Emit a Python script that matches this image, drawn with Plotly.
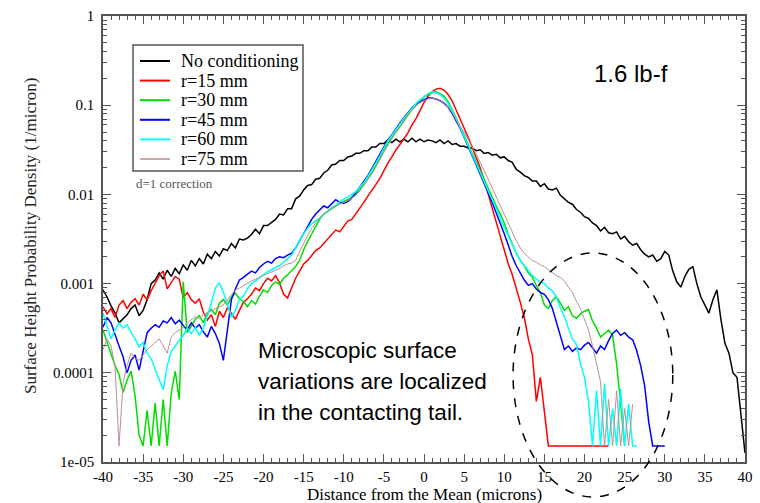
import plotly.graph_objects as go

# Bin centres of the height histogram (microns from the mean), 0.5 micron bins
distance = [i * 0.5 for i in range(-80, 81)]

# log10 of the surface-height probability density (1/micron), one value per bin.
# -4.82 is the single-count floor; None marks empty bins that are not drawn.
log_no_cond = [
    -3.07, -3.15, -3.25, -3.33, -3.44, -3.40, -3.35, -3.28, -3.24, -3.36,
    -3.30, -3.18, -3.00, -2.96, -2.88, -2.95, -2.85, -2.92, -2.83, -2.89,
    -2.79, -2.85, -2.74, -2.80, -2.72, -2.78, -2.67, -2.72, -2.64, -2.69,
    -2.61, -2.63, -2.55, -2.60, -2.50, -2.51, -2.49, -2.45, -2.39, -2.44,
    -2.35, -2.35, -2.32, -2.28, -2.22, -2.23, -2.16, -2.16, -2.05, -2.02,
    -1.95, -1.90, -1.89, -1.83, -1.82, -1.76, -1.73, -1.67, -1.66, -1.62,
    -1.62, -1.58, -1.57, -1.54, -1.54, -1.51, -1.51, -1.47, -1.47, -1.43,
    -1.43, -1.39, -1.42, -1.38, -1.41, -1.38, -1.41, -1.37, -1.41, -1.38,
    -1.41, -1.39, -1.40, -1.42, -1.39, -1.43, -1.40, -1.44, -1.43, -1.46,
    -1.46, -1.48, -1.48, -1.51, -1.50, -1.54, -1.53, -1.56, -1.55, -1.59,
    -1.58, -1.62, -1.64, -1.72, -1.75, -1.79, -1.81, -1.85, -1.85, -1.91,
    -1.88, -1.94, -1.95, -1.93, -2.01, -2.05, -2.09, -2.11, -2.17, -2.20,
    -2.25, -2.27, -2.32, -2.35, -2.41, -2.37, -2.43, -2.44, -2.42, -2.50,
    -2.47, -2.53, -2.57, -2.55, -2.62, -2.67, -2.70, -2.68, -2.75, -2.72,
    -2.64, -2.68, -2.86, -2.98, -3.04, -2.92, -2.84, -2.81, -3.00, -3.15,
    -3.25, -3.33, -3.18, -3.07, -3.40, -3.67, -3.78, -4.00, -4.05, -4.50,
    -4.90,
]

log_r15 = [
    -3.26, -3.34, -3.28, -3.38, -3.24, -3.19, -3.28, -3.21, -3.17, -3.24,
    -3.12, -3.18, -3.08, -3.00, -2.91, -2.86, -3.06, -2.99, -2.92, -2.95,
    -3.16, -3.10, -3.18, -3.22, -3.17, -3.32, -3.41, -3.35, -3.48, -3.31,
    -3.38, -3.27, -3.34, -3.40, -3.30, -3.21, -3.17, -3.12, -3.05, -3.08,
    -3.00, -2.94, -2.97, -2.91, -2.99, -3.12, -3.16, -3.05, -2.94, -2.86,
    -2.78, -2.74, -2.69, -2.63, -2.60, -2.55, -2.50, -2.44, -2.40, -2.42,
    -2.36, -2.30, -2.28, -2.22, -2.16, -2.09, -2.02, -1.96, -1.89, -1.82,
    -1.73, -1.65, -1.58, -1.50, -1.44, -1.38, -1.31, -1.22, -1.15, -1.06,
    -0.97, -0.90, -0.85, -0.82, -0.81, -0.83, -0.88, -0.95, -1.05, -1.14,
    -1.25, -1.36, -1.47, -1.58, -1.70, -1.84, -2.00, -2.16, -2.32, -2.48,
    -2.64, -2.78, -2.90, -3.05, -3.21, -3.38, -3.62, -3.80, -4.32, -4.05,
    -4.46, -4.82, -4.82, -4.82, -4.82, -4.82, -4.82, -4.82, -4.82, -4.82,
    -4.82, -4.82, -4.82, -4.82, -4.82, -4.82, -4.82, None, None, None,
    None, None, None, None, None, None, None, None, None, None,
    None, None, None, None, None, None, None, None, None, None,
    None, None, None, None, None, None, None, None, None, None,
    None,
]

log_r30 = [
    -3.52, -3.66, -3.78, -3.92, -4.02, -4.22, -4.08, -3.98, -4.26, -4.70,
    -4.82, -4.42, -4.82, -4.34, -4.82, -4.30, -4.82, -4.23, -3.98, -4.30,
    -2.98, -3.55, -3.48, -3.40, -3.36, -3.44, -3.33, -3.29, -3.35, -3.22,
    -3.18, -3.24, -3.15, -3.11, -3.17, -3.20, -3.26, -3.19, -3.23, -3.14,
    -3.07, -3.10, -3.02, -2.98, -3.01, -2.94, -2.90, -2.86, -2.81, -2.74,
    -2.62, -2.53, -2.44, -2.36, -2.28, -2.22, -2.19, -2.16, -2.13, -2.10,
    -2.08, -2.06, -2.03, -2.00, -1.95, -1.89, -1.83, -1.76, -1.68, -1.60,
    -1.50, -1.43, -1.36, -1.30, -1.24, -1.17, -1.11, -1.05, -1.00, -0.95,
    -0.91, -0.88, -0.86, -0.85, -0.87, -0.90, -0.96, -1.05, -1.14, -1.24,
    -1.34, -1.44, -1.54, -1.64, -1.74, -1.84, -1.94, -2.04, -2.13, -2.22,
    -2.32, -2.45, -2.56, -2.66, -2.74, -2.80, -2.88, -2.93, -3.02, -3.10,
    -3.24, -3.28, -3.19, -3.15, -3.22, -3.30, -3.26, -3.36, -3.39, -3.34,
    -3.31, -3.29, -3.42, -3.50, -3.60, -3.56, -3.52, -3.58, -3.90, -4.34,
    -4.82, None, None, None, None, None, None, None, None, None,
    None, None, None, None, None, None, None, None, None, None,
    None, None, None, None, None, None, None, None, None, None,
    None,
]

log_r45 = [
    -3.49, -3.38, -3.44, -3.58, -3.70, -3.82, -4.00, -3.86, -3.80, -3.97,
    -3.74, -3.55, -3.50, -3.46, -3.49, -3.42, -3.44, -3.38, -3.45, -3.41,
    -3.47, -3.52, -3.44, -3.50, -3.46, -3.54, -3.60, -3.48, -3.56, -3.67,
    -3.86, -3.50, -3.18, -3.06, -2.96, -2.93, -2.90, -2.86, -2.88, -2.82,
    -2.78, -2.75, -2.77, -2.72, -2.70, -2.71, -2.68, -2.66, -2.60, -2.52,
    -2.45, -2.36, -2.28, -2.22, -2.17, -2.13, -2.15, -2.10, -2.06, -2.09,
    -2.10, -2.08, -2.04, -1.98, -1.92, -1.86, -1.79, -1.71, -1.63, -1.55,
    -1.46, -1.39, -1.33, -1.26, -1.20, -1.14, -1.08, -1.03, -0.99, -0.96,
    -0.94, -0.92, -0.92, -0.93, -0.95, -0.98, -1.02, -1.09, -1.17, -1.26,
    -1.36, -1.46, -1.56, -1.66, -1.76, -1.87, -1.98, -2.09, -2.20, -2.31,
    -2.44, -2.57, -2.70, -2.80, -2.88, -2.96, -3.02, -3.00, -3.06, -3.10,
    -3.12, -3.18, -3.28, -3.44, -3.58, -3.74, -3.70, -3.76, -3.72, -3.74,
    -3.69, -3.66, -3.72, -3.78, -3.70, -3.74, -3.64, -3.56, -3.52, -3.58,
    -3.55, -3.60, -3.63, -3.75, -3.92, -4.15, -4.55, -4.82, -4.82, -4.82,
    -4.82, None, None, None, None, None, None, None, None, None,
    None, None, None, None, None, None, None, None, None, None,
    None,
]

log_r60 = [
    -3.33, -3.48, -3.62, -3.52, -3.44, -3.50, -3.46, -3.55, -3.62, -3.71,
    -3.66, -3.78, -3.84, -3.96, -4.08, -4.19, -3.92, -3.76, -3.70, -3.64,
    -3.58, -3.50, -3.56, -3.49, -3.58, -3.50, -3.36, -3.22, -3.05, -2.99,
    -3.10, -3.22, -3.38, -3.30, -3.18, -3.14, -3.06, -3.00, -2.97, -2.93,
    -2.90, -2.87, -2.84, -2.82, -2.80, -2.76, -2.72, -2.68, -2.60, -2.52,
    -2.44, -2.38, -2.33, -2.30, -2.27, -2.22, -2.18, -2.15, -2.12, -2.08,
    -2.05, -2.03, -2.00, -1.97, -1.92, -1.87, -1.80, -1.73, -1.65, -1.57,
    -1.48, -1.40, -1.34, -1.27, -1.21, -1.15, -1.09, -1.03, -0.98, -0.94,
    -0.90, -0.87, -0.85, -0.86, -0.88, -0.92, -0.98, -1.06, -1.15, -1.25,
    -1.35, -1.45, -1.55, -1.65, -1.75, -1.85, -1.96, -2.06, -2.16, -2.27,
    -2.37, -2.48, -2.58, -2.66, -2.74, -2.80, -2.86, -2.91, -2.95, -2.98,
    -3.00, -3.05, -3.08, -3.15, -3.28, -3.37, -3.50, -3.62, -3.68, -3.90,
    -4.05, -4.32, -4.82, -4.20, -4.82, -4.12, -4.82, -4.40, -4.82, -4.18,
    -4.82, -4.35, -4.82, -4.82, None, None, None, None, None, None,
    None, None, None, None, None, None, None, None, None, None,
    None, None, None, None, None, None, None, None, None, None,
    None,
]

log_r75 = [
    -3.74, -3.62, -3.70, -3.93, -4.82, -4.11, -3.92, -3.78, -3.84, -3.86,
    -3.80, -3.74, -3.70, -3.66, -3.62, -3.70, -3.78, -3.60, -3.55, -3.52,
    -3.49, -3.44, -3.40, -3.37, -3.39, -3.35, -3.33, -3.30, -3.28, -3.26,
    -3.24, -3.18, -3.12, -3.07, -3.05, -3.02, -2.99, -2.97, -2.95, -2.93,
    -2.91, -2.89, -2.87, -2.85, -2.83, -2.80, -2.78, -2.77, -2.74, -2.64,
    -2.54, -2.46, -2.38, -2.32, -2.26, -2.22, -2.18, -2.15, -2.13, -2.11,
    -2.09, -2.07, -2.04, -2.01, -1.96, -1.90, -1.84, -1.77, -1.69, -1.61,
    -1.52, -1.44, -1.37, -1.30, -1.23, -1.16, -1.10, -1.05, -1.00, -0.97,
    -0.95, -0.93, -0.92, -0.93, -0.95, -0.98, -1.02, -1.08, -1.16, -1.24,
    -1.30, -1.38, -1.46, -1.55, -1.64, -1.73, -1.83, -1.93, -2.03, -2.12,
    -2.22, -2.32, -2.42, -2.52, -2.60, -2.66, -2.70, -2.74, -2.76, -2.79,
    -2.81, -2.84, -2.88, -2.91, -2.93, -2.97, -3.04, -3.10, -3.20, -3.28,
    -3.40, -3.52, -3.70, -3.90, -4.10, -4.82, -4.30, -4.82, -4.20, -4.82,
    -4.40, -4.82, -4.35, None, None, None, None, None, None, None,
    None, None, None, None, None, None, None, None, None, None,
    None, None, None, None, None, None, None, None, None, None,
    None,
]

series_names = ["No conditioning", "r=15 mm", "r=30 mm", "r=45 mm", "r=60 mm", "r=75 mm"]
series_logs = [log_no_cond, log_r15, log_r30, log_r45, log_r60, log_r75]
series_colors = ["#000000", "#ff0000", "#00dd00", "#0000ff", "#00ffff", "#bc8f8f"]
series_widths = [1.5, 1.5, 1.5, 1.5, 1.5, 1.0]

x_tick_vals = [-40, -35, -30, -25, -20, -15, -10, -5, 0, 5, 10, 15, 20, 25, 30, 35, 40]
x_tick_text = ["-40", "-35", "-30", "-25", "-20", "-15", "-10", "-5", "0",
               "5", "10", "15", "20", "25", "30", "35", "40"]
y_tick_vals = [1e-5, 1e-4, 1e-3, 1e-2, 1e-1, 1]
y_tick_text = ["1e-05", "0.0001", "0.001", "0.01", "0.1", "1"]
y_minor_vals = [m * 10.0 ** e for e in range(-5, 0) for m in range(2, 10)]

SERIF = "Liberation Serif, Times New Roman, serif"
SANS = "Liberation Sans, Arial, sans-serif"
FRAME = "#555555"

fig = go.Figure()
for name, logs, color, width in zip(series_names, series_logs, series_colors, series_widths):
    fig.add_trace(go.Scatter(
        x=distance,
        y=[None if v is None else 10.0 ** v for v in logs],
        mode="lines",
        name=name,
        line=dict(color=color, width=width),
        connectgaps=False,
    ))

fig.update_layout(
    width=760,
    height=503,
    margin=dict(l=103, r=15, t=16, b=41),
    paper_bgcolor="white",
    plot_bgcolor="white",
    showlegend=False,
    xaxis=dict(
        range=[-40, 40], automargin=False,
        tickvals=x_tick_vals, ticktext=x_tick_text,
        ticks="inside", ticklen=8, tickwidth=1, tickcolor=FRAME,
        minor=dict(dtick=1, tick0=-40, ticks="inside", ticklen=4, tickwidth=1, tickcolor=FRAME),
        showline=True, linecolor=FRAME, linewidth=1.5, mirror="allticks",
        showgrid=False, zeroline=False,
        tickfont=dict(family=SERIF, size=15, color="black"),
    ),
    yaxis=dict(
        type="log", range=[-5, 0], automargin=False,
        tickvals=y_tick_vals, ticktext=y_tick_text,
        ticks="inside", ticklen=8, tickwidth=1, tickcolor=FRAME,
        minor=dict(tickvals=y_minor_vals, ticks="inside", ticklen=4, tickwidth=1, tickcolor=FRAME),
        showline=True, linecolor=FRAME, linewidth=1.5, mirror="allticks",
        showgrid=False, zeroline=False, ticklabelstandoff=4,
        tickfont=dict(family=SERIF, size=15, color="black"),
    ),
)


def px_x(p):
    """Horizontal pixel position inside the figure -> paper fraction."""
    return (p - 103) / 642.0


def px_y(p):
    """Vertical pixel position inside the figure -> paper fraction."""
    return (462 - p) / 446.0


def label(text, x, y, size, family=SERIF, color="black", xanchor="center", angle=0):
    fig.add_annotation(text=text, xref="paper", yref="paper", x=x, y=y,
                       xanchor=xanchor, yanchor="middle", textangle=angle,
                       showarrow=False, font=dict(family=family, size=size, color=color))


# Axis titles
label("Distance from the Mean (microns)", px_x(424), px_y(494), 17)
label("Surface Height Probability Density (1/micron)", px_x(30), px_y(236), 17,
      color="#222222", angle=-90)

# Legend box drawn by hand so that its rows sit close together
fig.add_shape(type="rect", xref="paper", yref="paper",
              x0=px_x(133), x1=px_x(303), y0=px_y(171), y1=px_y(45),
              line=dict(color=FRAME, width=1.5), fillcolor="white", layer="above")
for i, (name, color, width) in enumerate(zip(series_names, series_colors, series_widths)):
    row_y = px_y(61 + 19.6 * i)
    fig.add_shape(type="line", xref="paper", yref="paper",
                  x0=px_x(140), x1=px_x(170), y0=row_y, y1=row_y,
                  line=dict(color=color, width=width + 0.5), layer="above")
    label(name, px_x(179), row_y, 18, xanchor="left")

# Dashed ring around the contacting tail
fig.add_shape(
    type="circle", xref="x", yref="paper",
    x0=11.1, x1=31.0, y0=px_y(497), y1=px_y(253),
    line=dict(color="black", width=1.5, dash="dash"),
)

label("1.6 lb-f", px_x(631), px_y(73), 24, family=SANS)
label("d=1 correction", px_x(134), px_y(183), 13, color="#555555", xanchor="left")

note_lines = ["Microscopic surface", "variations are localized", "in the contacting tail."]
note_px = [350, 381, 412]
for line_text, p in zip(note_lines, note_px):
    label(line_text, px_x(256), px_y(p), 22.5, family=SANS, xanchor="left")

fig.write_html("out.html", config={"displayModeBar": False})
